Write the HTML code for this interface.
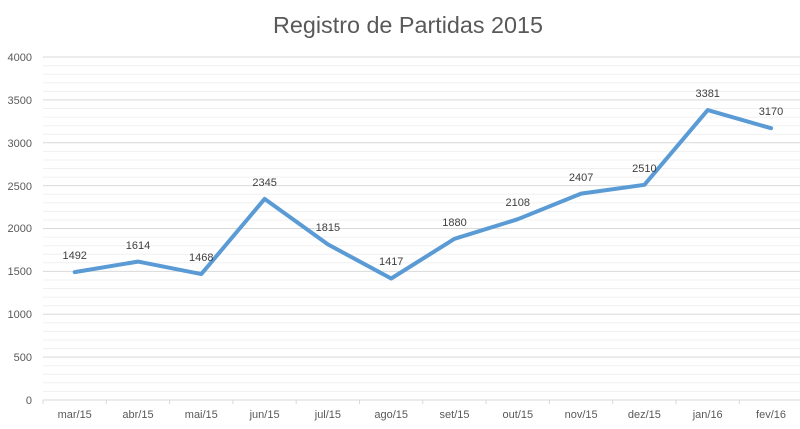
<!DOCTYPE html>
<html><head><meta charset="utf-8"><style>
html,body{margin:0;padding:0;background:#fff;}
svg{display:block;font-family:"Liberation Sans",sans-serif;}
</style></head><body>
<svg width="800" height="429" viewBox="0 0 800 429" xmlns="http://www.w3.org/2000/svg">
<rect width="800" height="429" fill="#fff"/>
<text x="408" y="33" font-size="23" fill="#595959" text-anchor="middle" textLength="270" lengthAdjust="spacingAndGlyphs">Registro de Partidas 2015</text>
<g stroke="#f0f0f0" stroke-width="1">
<line x1="43" x2="800" y1="391.4" y2="391.4"/><line x1="43" x2="800" y1="382.8" y2="382.8"/><line x1="43" x2="800" y1="374.3" y2="374.3"/><line x1="43" x2="800" y1="365.7" y2="365.7"/>
<line x1="43" x2="800" y1="348.6" y2="348.6"/><line x1="43" x2="800" y1="340" y2="340"/><line x1="43" x2="800" y1="331.4" y2="331.4"/><line x1="43" x2="800" y1="322.8" y2="322.8"/>
<line x1="43" x2="800" y1="305.7" y2="305.7"/><line x1="43" x2="800" y1="297.1" y2="297.1"/><line x1="43" x2="800" y1="288.5" y2="288.5"/><line x1="43" x2="800" y1="280" y2="280"/>
<line x1="43" x2="800" y1="262.8" y2="262.8"/><line x1="43" x2="800" y1="254.2" y2="254.2"/><line x1="43" x2="800" y1="245.7" y2="245.7"/><line x1="43" x2="800" y1="237.1" y2="237.1"/>
<line x1="43" x2="800" y1="220" y2="220"/><line x1="43" x2="800" y1="211.4" y2="211.4"/><line x1="43" x2="800" y1="202.8" y2="202.8"/><line x1="43" x2="800" y1="194.2" y2="194.2"/>
<line x1="43" x2="800" y1="177.1" y2="177.1"/><line x1="43" x2="800" y1="168.5" y2="168.5"/><line x1="43" x2="800" y1="160" y2="160"/><line x1="43" x2="800" y1="151.4" y2="151.4"/>
<line x1="43" x2="800" y1="134.2" y2="134.2"/><line x1="43" x2="800" y1="125.7" y2="125.7"/><line x1="43" x2="800" y1="117.1" y2="117.1"/><line x1="43" x2="800" y1="108.5" y2="108.5"/>
<line x1="43" x2="800" y1="91.4" y2="91.4"/><line x1="43" x2="800" y1="82.8" y2="82.8"/><line x1="43" x2="800" y1="74.3" y2="74.3"/><line x1="43" x2="800" y1="65.7" y2="65.7"/>
</g>
<g stroke="#d9d9d9" stroke-width="1">
<line x1="43" x2="800" y1="357.1" y2="357.1"/><line x1="43" x2="800" y1="314.2" y2="314.2"/><line x1="43" x2="800" y1="271.4" y2="271.4"/><line x1="43" x2="800" y1="228.5" y2="228.5"/>
<line x1="43" x2="800" y1="185.6" y2="185.6"/><line x1="43" x2="800" y1="142.8" y2="142.8"/><line x1="43" x2="800" y1="99.9" y2="99.9"/><line x1="43" x2="800" y1="57" y2="57"/>
<line x1="43" x2="800" y1="400" y2="400"/>
<line x1="43" x2="43" y1="400" y2="404"/><line x1="106.3" x2="106.3" y1="400" y2="404"/><line x1="169.6" x2="169.6" y1="400" y2="404"/><line x1="232.9" x2="232.9" y1="400" y2="404"/><line x1="296.2" x2="296.2" y1="400" y2="404"/><line x1="359.5" x2="359.5" y1="400" y2="404"/><line x1="422.8" x2="422.8" y1="400" y2="404"/><line x1="486.1" x2="486.1" y1="400" y2="404"/><line x1="549.4" x2="549.4" y1="400" y2="404"/><line x1="612.7" x2="612.7" y1="400" y2="404"/><line x1="676" x2="676" y1="400" y2="404"/><line x1="739.3" x2="739.3" y1="400" y2="404"/>
</g>
<g font-size="11" fill="#595959" text-anchor="end">
<text x="32" y="404">0</text><text x="32" y="361">500</text><text x="32" y="318">1000</text><text x="32" y="275">1500</text><text x="32" y="232">2000</text><text x="32" y="190">2500</text><text x="32" y="147">3000</text><text x="32" y="104">3500</text><text x="32" y="61">4000</text>
</g>
<g font-size="11" fill="#595959" text-anchor="middle">
<text x="74.7" y="418">mar/15</text><text x="138" y="418">abr/15</text><text x="201.3" y="418">mai/15</text><text x="264.6" y="418">jun/15</text><text x="327.9" y="418">jul/15</text><text x="391.2" y="418">ago/15</text><text x="454.5" y="418">set/15</text><text x="517.8" y="418">out/15</text><text x="581.1" y="418">nov/15</text><text x="644.4" y="418">dez/15</text><text x="707.7" y="418">jan/16</text><text x="771" y="418">fev/16</text>
</g>
<polyline fill="none" stroke="#5b9bd5" stroke-width="4" stroke-linejoin="round" stroke-linecap="round" points="74.7,272.1 138,261.6 201.3,274.1 264.6,198.9 327.9,244.4 391.2,278.5 454.5,238.8 517.8,219.2 581.1,193.6 644.4,184.8 707.7,110.1 771,128.2"/>
<g font-size="11" fill="#404040" text-anchor="middle">
<text x="74.7" y="259">1492</text><text x="138" y="249">1614</text><text x="201.3" y="261">1468</text><text x="264.6" y="186">2345</text><text x="327.9" y="231">1815</text><text x="391.2" y="265">1417</text><text x="454.5" y="226">1880</text><text x="517.8" y="206">2108</text><text x="581.1" y="181">2407</text><text x="644.4" y="172">2510</text><text x="707.7" y="97">3381</text><text x="771" y="115">3170</text>
</g>
</svg>
</body></html>
